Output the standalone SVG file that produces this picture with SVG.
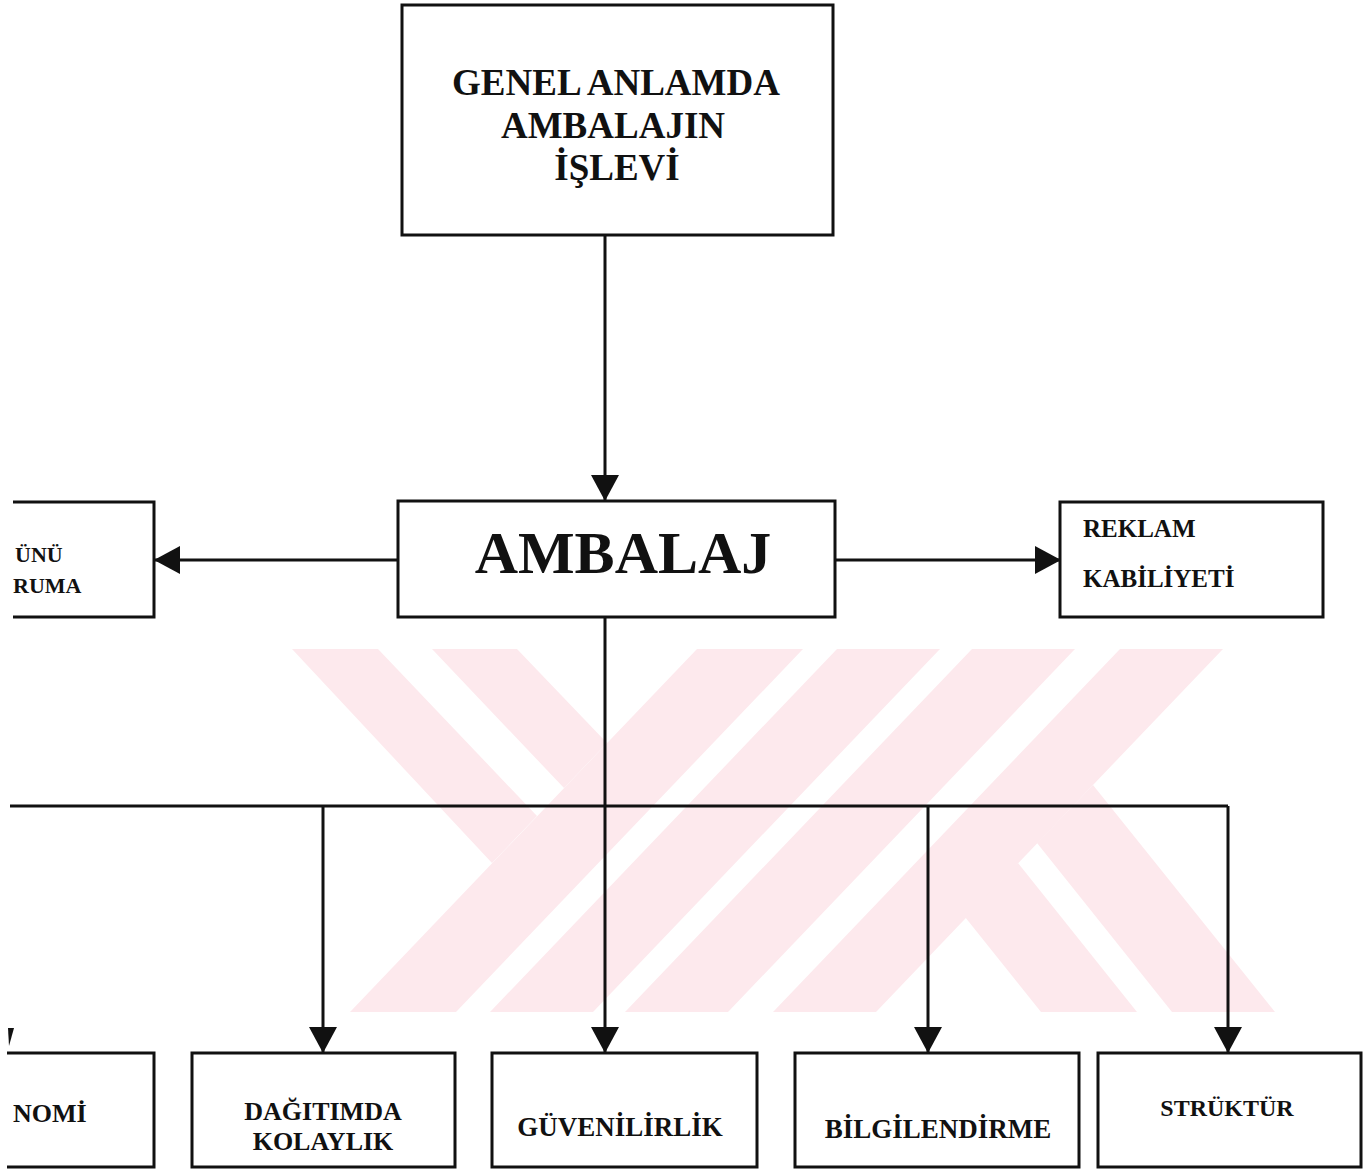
<svg xmlns="http://www.w3.org/2000/svg" width="1366" height="1172" viewBox="0 0 1366 1172">
<style>
.box{fill:#fff;stroke:#111;stroke-width:3}
.open{fill:none;stroke:#111;stroke-width:3}
.ln{fill:none;stroke:#111;stroke-width:3}
.t{font-family:"Liberation Serif","Times New Roman",serif;font-weight:bold;fill:#111}
.wm{fill:#fde9ed}
</style>
<defs>
<marker id="ah" markerUnits="userSpaceOnUse" markerWidth="26" markerHeight="28" refX="25" refY="14" orient="auto">
<path d="M0,0 L26,14 L0,28 Z" fill="#111"/>
</marker>
</defs>
<rect width="1366" height="1172" fill="#fff"/>
<g id="watermark">
<polygon class="wm" points="292,649 378,649 537,816 492,863"/>
<polygon class="wm" points="432,649 517,649 607,743 564,788"/>
<polygon class="wm" points="697,649 803,649 456,1012 350,1012"/>
<polygon class="wm" points="837,649 940,649 593,1012 490,1012"/>
<polygon class="wm" points="972,649 1075,649 728,1012 625,1012"/>
<polygon class="wm" points="1120,649 1223,649 876,1012 773,1012"/>
<polygon class="wm" points="1037,843 1093,785 1275,1012 1172,1012"/>
<polygon class="wm" points="965,917 1018,863 1137,1012 1041,1012"/>
</g>
<g id="connectors">
<path class="ln" d="M605,235 V500" marker-end="url(#ah)"/>
<path class="ln" d="M398,560 H155" marker-end="url(#ah)"/>
<path class="ln" d="M835,560 H1060" marker-end="url(#ah)"/>
<path class="ln" d="M605,617 V1052" marker-end="url(#ah)"/>
<path class="ln" d="M10,806 H1228"/>
<path class="ln" d="M323,806 V1052" marker-end="url(#ah)"/>
<path class="ln" d="M928,806 V1052" marker-end="url(#ah)"/>
<path class="ln" d="M1228,806 V1052" marker-end="url(#ah)"/>
<polygon points="8,1028 14,1028 9,1046" fill="#111"/>
</g>
<g id="node-genel">
<rect class="box" x="402" y="5" width="431" height="230"/>
<text class="t" font-size="37" text-anchor="middle"><tspan x="616" y="95">GENEL ANLAMDA</tspan><tspan x="613" y="138">AMBALAJIN</tspan><tspan x="617" y="180">İŞLEVİ</tspan></text>
</g>
<g id="node-ambalaj">
<rect class="box" x="398" y="501" width="437" height="116"/>
<text class="t" font-size="60" text-anchor="middle" x="623" y="573">AMBALAJ</text>
</g>
<g id="node-left">
<path class="open" d="M13,502 H154 V617 H13"/>
<text class="t" font-size="22"><tspan x="15" y="562">ÜNÜ</tspan><tspan x="13" y="593">RUMA</tspan></text>
</g>
<g id="node-reklam">
<rect class="box" x="1060" y="502" width="263" height="115"/>
<text class="t" font-size="25"><tspan x="1083" y="537">REKLAM</tspan><tspan x="1083" y="587">KABİLİYETİ</tspan></text>
</g>
<g id="node-ekonomi">
<path class="open" d="M7,1053 H154 V1167 H7"/>
<text class="t" font-size="26" x="13" y="1122">NOMİ</text>
</g>
<g id="node-dagitim">
<rect class="box" x="192" y="1053" width="263" height="114"/>
<text class="t" font-size="26" text-anchor="middle"><tspan x="323" y="1120">DAĞITIMDA</tspan><tspan x="323" y="1150">KOLAYLIK</tspan></text>
</g>
<g id="node-guven">
<rect class="box" x="492" y="1053" width="265" height="114"/>
<text class="t" font-size="27" text-anchor="middle" x="620" y="1136">GÜVENİLİRLİK</text>
</g>
<g id="node-bilgi">
<rect class="box" x="795" y="1053" width="284" height="114"/>
<text class="t" font-size="27" text-anchor="middle" x="938" y="1138">BİLGİLENDİRME</text>
</g>
<g id="node-struktur">
<rect class="box" x="1098" y="1053" width="263" height="114"/>
<text class="t" font-size="24" text-anchor="middle" x="1227" y="1116">STRÜKTÜR</text>
</g>
</svg>
